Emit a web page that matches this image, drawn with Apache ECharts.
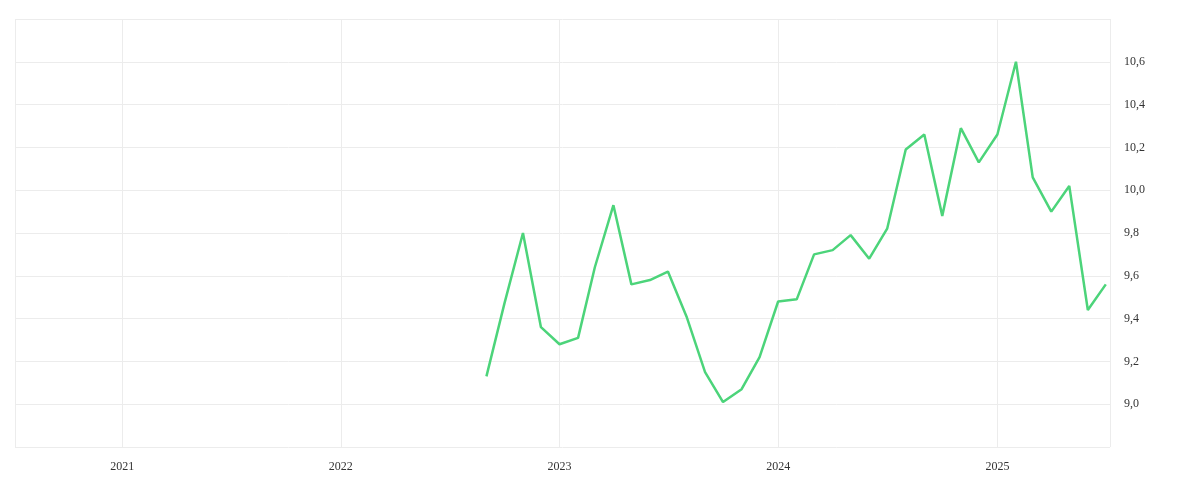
<!DOCTYPE html>
<html><head><meta charset="utf-8">
<script src="https://cdn.jsdelivr.net/npm/echarts@6/dist/echarts.min.js"></script>
<style>html,body{margin:0;padding:0;background:#fff}#c{width:1200px;height:500px}</style>
</head><body><div id="c"></div>
<script>
const months = ['2022-09','2022-10','2022-11','2022-12','2023-01','2023-02','2023-03','2023-04','2023-05','2023-06','2023-07','2023-08','2023-09','2023-10','2023-11','2023-12','2024-01','2024-02','2024-03','2024-04','2024-05','2024-06','2024-07','2024-08','2024-09','2024-10','2024-11','2024-12','2025-01','2025-02','2025-03','2025-04','2025-05','2025-06','2025-07'];
const values = [9.13,9.47,9.80,9.36,9.28,9.31,9.64,9.93,9.56,9.58,9.62,9.41,9.15,9.01,9.07,9.22,9.48,9.49,9.70,9.72,9.79,9.68,9.82,10.19,10.26,9.88,10.29,10.13,10.26,10.60,10.06,9.90,10.02,9.44,9.56];
const font = 'Liberation Serif';
const chart = echarts.init(document.getElementById('c'));
chart.setOption({
  animation:false,
  grid:{left:15,right:90,top:19,bottom:53},
  xAxis:{type:'time',min:+new Date('2020-07-06'),max:+new Date('2025-07-08'),
    splitNumber:5,
    axisLine:{show:false},axisTick:{show:false},
    splitLine:{show:true,lineStyle:{color:'#ececec'}},
    axisLabel:{color:'#333',fontFamily:font,fontSize:12,margin:14,
      formatter:v=>{const d=new Date(v);return d.getMonth()===0&&d.getDate()===1?String(d.getFullYear()):'';}}
  },
  yAxis:{type:'value',position:'right',min:8.8,max:10.8,interval:0.2,
    axisLine:{show:false},axisTick:{show:false},
    splitLine:{lineStyle:{color:'#ececec'}},
    axisLabel:{color:'#333',fontFamily:font,fontSize:12,margin:14,
      formatter:v=>(v<8.9||v>10.7)?'':v.toFixed(1).replace('.',',')}
  },
  series:[{type:'line',showSymbol:false,data:months.map((m,i)=>[m+'-01',values[i]]),
    lineStyle:{color:'#4cd47a',width:2.5},itemStyle:{color:'#4cd47a'}}]
});
</script></body></html>
